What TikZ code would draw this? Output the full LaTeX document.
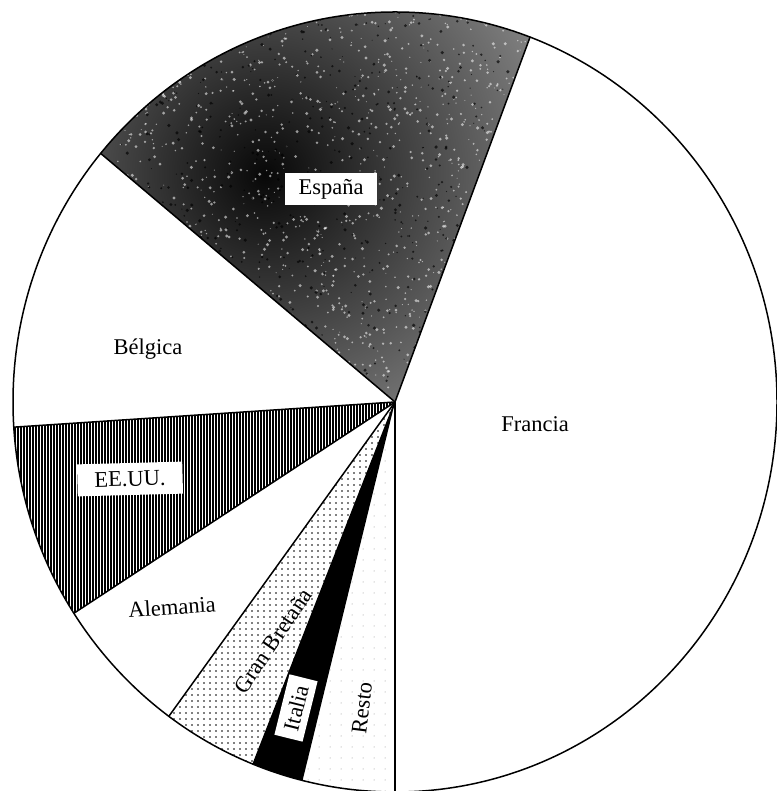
\documentclass[tikz,border=0pt]{standalone}
\usepackage{fontspec}
\setmainfont{Liberation Serif}
\usetikzlibrary{patterns.meta}
\tikzset{
  edge line/.style={line width=1.5pt, line join=round, line cap=round},
  lab/.style={font=\fontsize{22.5}{27}\selectfont, inner sep=0pt},
  boxlab/.style={lab, fill=white, inner xsep=14pt, minimum height=32pt},
  usa fill/.style={pattern={Lines[angle=90,distance=3pt,line width=1.3pt]}},
  gb fill/.style={pattern={Dots[distance=6pt,radius=0.8pt]}},
  resto fill/.style={pattern={Dots[distance=11pt,radius=0.5pt]}, pattern color=black!45},
}
\def\PieSlice#1#2#3{\path[#1] (0,0) -- (#2:382pt and 390pt) arc[start angle=#2,end angle=#3,x radius=382pt,y radius=390pt] -- cycle;}
\begin{document}
\begin{tikzpicture}[x=1pt,y=1pt]
\useasboundingbox (0,0) rectangle (776,791);
\fill[white] (0,0) rectangle (776,791);
\begin{scope}[shift={(395,389)}]
  % España: dark mottled wedge
  \begin{scope}
    \clip (0,0) -- (69.3:382pt and 390pt) arc[start angle=69.3,end angle=140.4,x radius=382pt,y radius=390pt] -- cycle;
    \fill[black!20] (-400,-10) rectangle (200,400);
    \shade[inner color=black!97, outer color=black!18] (-130,228) circle (500pt);
    \pgfmathsetseed{42}
    \foreach \i in {1,...,1600}{
      \pgfmathsetmacro\px{rnd*440-300}
      \pgfmathsetmacro\py{rnd*400}
      \pgfmathsetmacro\pr{0.5+rnd*1.2}
      \fill[white, opacity=0.55] (\px,\py) circle (\pr pt);
    }
    \foreach \i in {1,...,700}{
      \pgfmathsetmacro\px{rnd*440-300}
      \pgfmathsetmacro\py{rnd*400}
      \pgfmathsetmacro\pr{0.5+rnd*1.3}
      \fill[black, opacity=0.65] (\px,\py) circle (\pr pt);
    }
  \end{scope}
  \PieSlice{usa fill}{183.7}{212.8}
  \PieSlice{gb fill}{233.7}{248.2}
  \PieSlice{fill=black}{248.2}{256}
  \PieSlice{resto fill}{256}{270}
  % outline and slice borders
  \draw[edge line] (0,0) ellipse [x radius=382pt, y radius=390pt];
  \foreach \a in {69.3,140.4,183.7,212.8,233.7,248.2,270}
    \draw[edge line] (0,0) -- (\a:382pt and 390pt);
\end{scope}
% labels
\node[boxlab] (espana) at (331,602) {España};
\node[lab] (belgica) at (148,442) {Bélgica};
\node[lab] (francia) at (535,367) {Francia};
\node[boxlab, inner xsep=17pt, rotate=1.5] (eeuu) at (130,312) {EE.UU.};
\node[lab, rotate=4] (alemania) at (172,184) {Alemania};
\node[lab, rotate=56] (gb) at (273,150) {Gran Bretaña};
\node[boxlab, inner xsep=8pt, minimum height=29pt, rotate=76] (italia) at (296,83) {Italia};
\node[lab, rotate=83] (resto) at (362,83) {Resto};
\end{tikzpicture}
\end{document}
